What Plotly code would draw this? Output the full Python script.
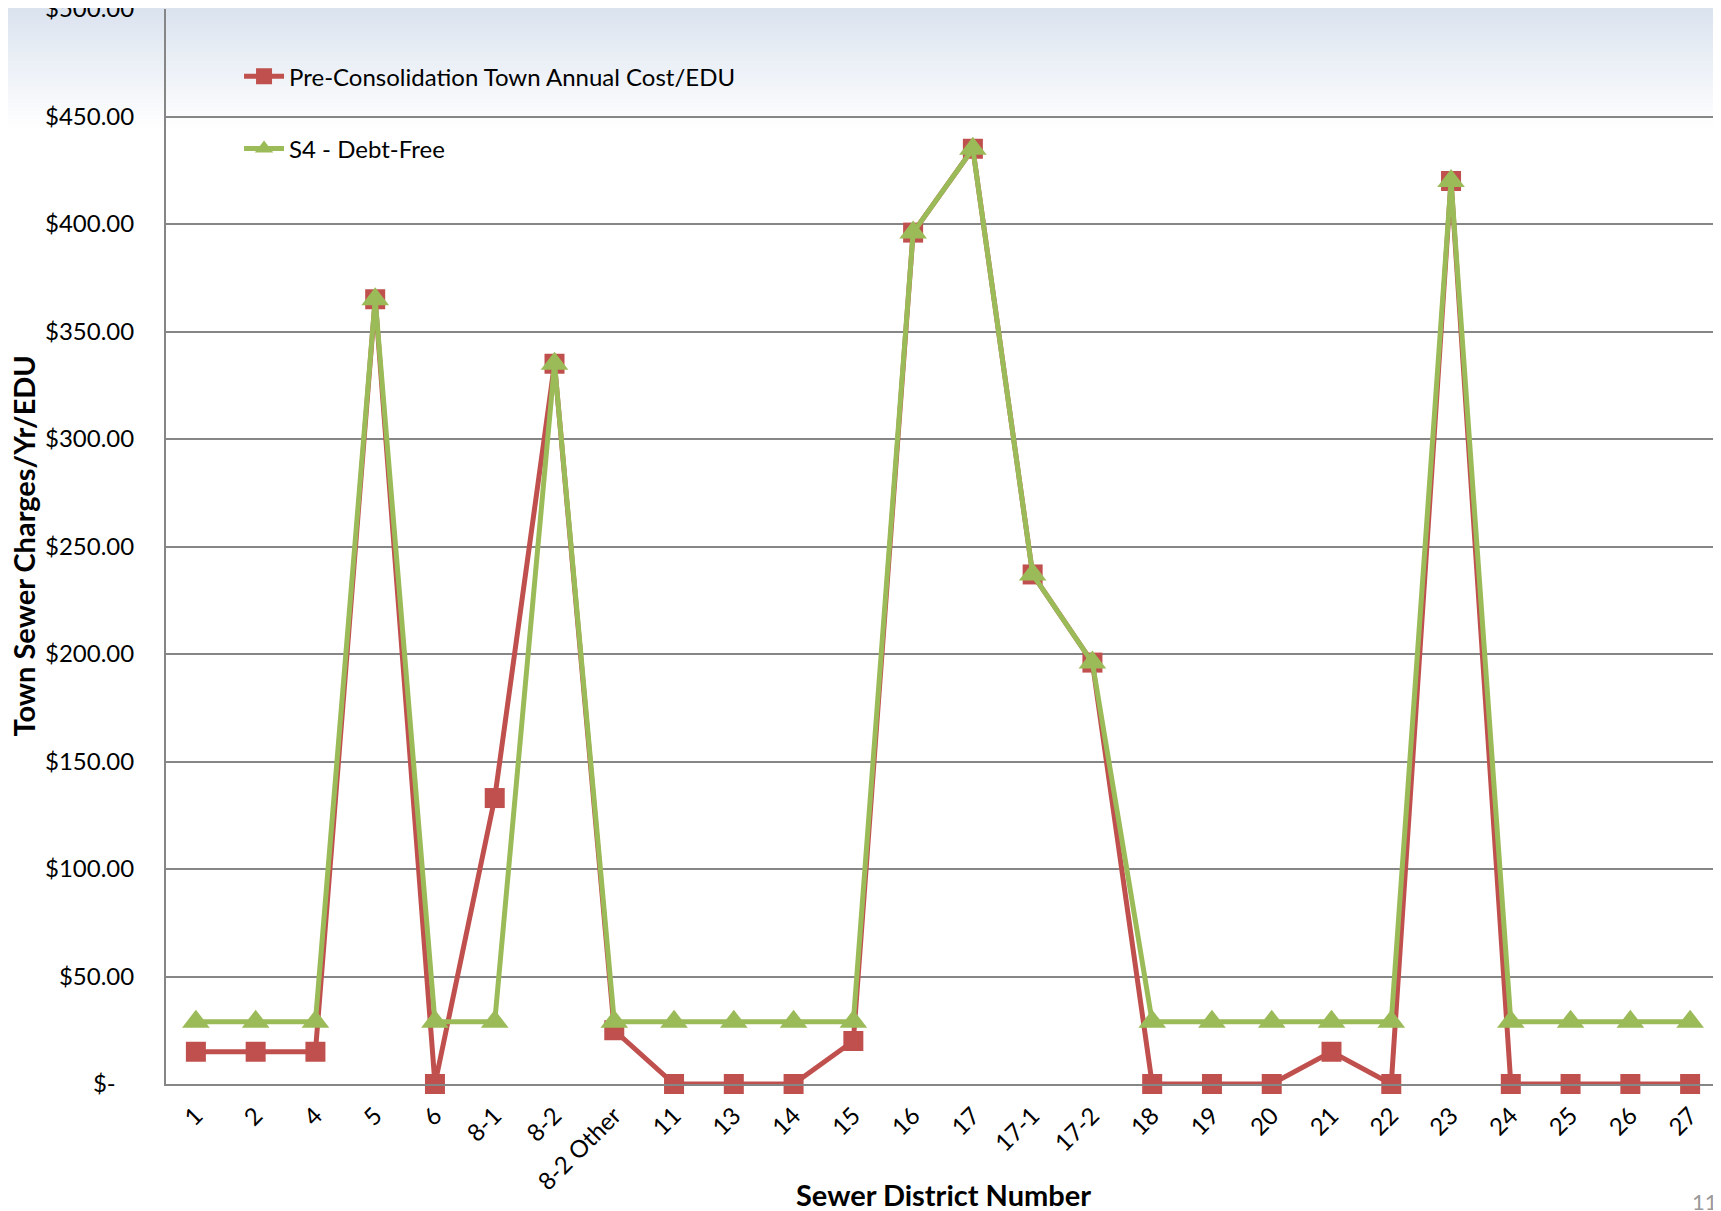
import plotly.graph_objects as go

districts = ["1", "2", "4", "5", "6", "8-1", "8-2", "8-2 Other", "11", "13", "14", "15",
             "16", "17", "17-1", "17-2", "18", "19", "20", "21", "22", "23", "24", "25", "26", "27"]
pre_consolidation = [15, 15, 15, 365, 0, 133, 335, 25, 0, 0, 0, 20,
                     396, 435, 237, 196, 0, 0, 0, 15, 0, 420, 0, 0, 0, 0]
s4_debt_free = [29, 29, 29, 365, 29, 29, 335, 29, 29, 29, 29, 29,
                396, 435, 237, 196, 29, 29, 29, 29, 29, 420, 29, 29, 29, 29]
y_tick_vals = [0, 50, 100, 150, 200, 250, 300, 350, 400, 450, 500]
y_tick_text = ["$-\u00a0\u00a0\u00a0", "$50.00", "$100.00", "$150.00", "$200.00", "$250.00",
               "$300.00", "$350.00", "$400.00", "$450.00", "$500.00"]

# page body adds an 8px margin, so the figure is sized/offset to compensate
W, H = 1713, 1203
L, R, T, B = 158, 1, 1, 127
FONT = "Lato"
RED = "#C0504D"
GREEN = "#9BBB59"
GRID = "#868686"

fig = go.Figure()
fig.add_trace(go.Scatter(
    x=districts, y=pre_consolidation, mode="lines+markers",
    name="Pre-Consolidation Town Annual Cost/EDU", legendgroup="a",
    line=dict(color=RED, width=5),
    marker=dict(symbol="square", size=20, color=RED),
    cliponaxis=False,
))
fig.add_trace(go.Scatter(
    x=districts, y=s4_debt_free, mode="lines+markers",
    name="S4 - Debt-Free", legendgroup="b",
    line=dict(color=GREEN, width=5),
    marker=dict(symbol="triangle-up", size=24, color=GREEN),
    cliponaxis=False,
))

pw = W - L - R
ph = H - T - B
def py(p):
    return (H - B - p) / ph
def pxp(p):
    return (p - L) / pw

# background gradient band at top of page
shapes = []
top_c = (219, 227, 239)
n = 30
band = 125
for i in range(n):
    y0p = band * i / n
    y1p = band * (i + 1) / n
    f = i / (n - 1)
    c = tuple(int(round(top_c[k] + (255 - top_c[k]) * f)) for k in range(3))
    shapes.append(dict(type="rect", xref="paper", yref="paper",
                       x0=pxp(0), x1=pxp(W),
                       y0=py(y1p), y1=py(y0p - 1),
                       line=dict(width=0), fillcolor="rgb(%d,%d,%d)" % c, layer="below"))

fig.update_layout(
    width=W, height=H,
    margin=dict(l=L, r=R, t=T, b=B, autoexpand=False),
    paper_bgcolor="white", plot_bgcolor="rgba(0,0,0,0)",
    font=dict(family=FONT, color="black", size=24),
    shapes=shapes,
    showlegend=True,
    legend=dict(x=0.047, y=0.958, xanchor="left", yanchor="top",
                bgcolor="rgba(0,0,0,0)", font=dict(size=24, family=FONT),
                traceorder="grouped", tracegroupgap=38, itemwidth=40),
    xaxis=dict(type="category", showgrid=False, showline=True, linecolor=GRID, linewidth=2,
               ticks="", tickangle=-45, tickfont=dict(size=24, family=FONT),
               ticklabelstandoff=6,
               range=[-0.5, len(districts) - 0.5]),
    yaxis=dict(range=[0, 500], tickvals=y_tick_vals, ticktext=y_tick_text,
               showgrid=True, gridcolor=GRID, gridwidth=1.5, showline=True, linecolor=GRID, linewidth=2,
               ticks="", ticklabelstandoff=25, ticklabeloverflow="allow",
               tickfont=dict(size=24, family=FONT), zeroline=False),
    annotations=[
        dict(text="<b>Sewer District Number</b>", xref="paper", yref="paper",
             x=0.5, y=py(1186), xanchor="center", yanchor="middle", showarrow=False,
             font=dict(size=29, family=FONT, color="black")),
        dict(text="<b>Town Sewer Charges/Yr/EDU</b>", xref="paper", yref="paper",
             x=pxp(15), y=0.5, xanchor="center", yanchor="middle", textangle=-90, showarrow=False,
             font=dict(size=29, family=FONT, color="black")),
        dict(text="11", xref="paper", yref="paper", x=pxp(1682), y=py(1178),
             xanchor="left", yanchor="top", showarrow=False,
             font=dict(size=22, color="#9A9A9A", family=FONT)),
    ],
)

fig.write_html("out.html")
